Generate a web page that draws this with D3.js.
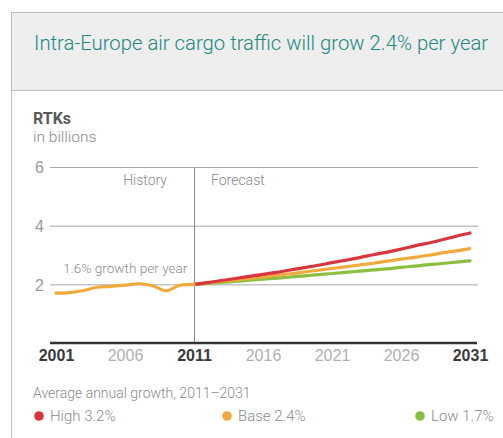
<!DOCTYPE html>
<html>
<head>
<meta charset="utf-8">
<script src="https://cdn.jsdelivr.net/npm/d3@7"></script>
<style>
  html, body { margin: 0; padding: 0; background: #fff; }
  svg { display: block; font-family: Roboto, "Liberation Sans", sans-serif; }
</style>
</head>
<body>
<svg id="chart" width="503" height="438"></svg>
<script>
// Revenue tonne-kilometres, intra-Europe, billions
const historyYears = d3.range(2001, 2012);
const historyValues = [1.70, 1.72, 1.79, 1.90, 1.93, 1.97, 2.02, 1.95, 1.78, 1.97, 2.00];

const forecastYears = d3.range(2011, 2032);
const highValues = [2.00, 2.06, 2.13, 2.20, 2.27, 2.34, 2.41, 2.49, 2.57, 2.65, 2.74,
                    2.82, 2.91, 3.01, 3.10, 3.20, 3.31, 3.41, 3.52, 3.64, 3.75];
const baseValues = [2.00, 2.05, 2.10, 2.15, 2.20, 2.25, 2.31, 2.36, 2.42, 2.48, 2.54,
                    2.60, 2.66, 2.72, 2.79, 2.86, 2.92, 2.99, 3.07, 3.14, 3.22];
const lowValues  = [2.00, 2.03, 2.07, 2.10, 2.14, 2.18, 2.21, 2.25, 2.29, 2.33, 2.37,
                    2.41, 2.45, 2.49, 2.53, 2.58, 2.62, 2.67, 2.71, 2.76, 2.80];

const xTicks = [2001, 2006, 2011, 2016, 2021, 2026, 2031];
const boldTicks = [2001, 2011, 2031];
const yTicks = [2, 4, 6];

const scenarios = [
  { name: "Low 1.7%",  values: lowValues,  color: "#8cbf3f" },
  { name: "Base 2.4%", values: baseValues, color: "#f2a93b" },
  { name: "High 3.2%", values: highValues, color: "#d8363f" }
];
const legendOrder = ["High 3.2%", "Base 2.4%", "Low 1.7%"];

const svg = d3.select("#chart");

// Header panel
svg.append("rect")
  .attr("x", 11.5).attr("y", 12.5).attr("width", 500).attr("height", 78)
  .attr("fill", "#eeeeee").attr("stroke", "#bdbdbd").attr("stroke-width", 1);
svg.append("line")
  .attr("x1", 11.5).attr("x2", 11.5).attr("y1", 90).attr("y2", 438)
  .attr("stroke", "#bdbdbd").attr("stroke-width", 1);
svg.append("text")
  .attr("x", 34).attr("y", 50)
  .attr("fill", "#23877e").attr("font-size", 20.3).attr("font-weight", 300)
  .text("Intra-Europe air cargo traffic will grow 2.4% per year");

// Unit labels
svg.append("text").attr("x", 33).attr("y", 124)
  .attr("fill", "#5a5a5a").attr("font-size", 16).attr("font-weight", 700)
  .text("RTKs");
svg.append("text").attr("x", 33).attr("y", 142)
  .attr("fill", "#8a8a8a").attr("font-size", 15.5).attr("font-weight", 300)
  .text("in billions");

const x = d3.scaleLinear().domain([2001, 2031]).range([56, 470]);
const y = d3.scaleLinear().domain([0, 6]).range([343, 167]);

// Horizontal gridlines with value labels
const yAxis = d3.axisLeft(y).tickValues(yTicks).tickSize(0).tickPadding(0)
  .tickFormat(d3.format("d"));
const gy = svg.append("g").attr("transform", "translate(44,0)").call(yAxis);
gy.select(".domain").remove();
gy.selectAll("text").attr("fill", "#9a9a9a").attr("font-size", 16)
  .attr("font-weight", 300).attr("font-family", null).attr("dy", "0.36em");
svg.append("g").selectAll("line").data(yTicks).join("line")
  .attr("x1", 50).attr("x2", 478)
  .attr("y1", d => y(d) + 0.5).attr("y2", d => y(d) + 0.5)
  .attr("stroke", "#a8a8a8").attr("stroke-width", 1);

// History / forecast divider
svg.append("line")
  .attr("x1", x(2011) + 0.5).attr("x2", x(2011) + 0.5)
  .attr("y1", y(6)).attr("y2", y(0))
  .attr("stroke", "#8a8a8a").attr("stroke-width", 1);
svg.append("text").attr("x", x(2011) - 27).attr("y", 185)
  .attr("text-anchor", "end").attr("fill", "#8a8a8a").attr("font-size", 14).attr("font-weight", 300)
  .text("History");
svg.append("text").attr("x", x(2011) + 17).attr("y", 185)
  .attr("fill", "#8a8a8a").attr("font-size", 14).attr("font-weight", 300)
  .text("Forecast");
svg.append("text").attr("x", 63).attr("y", 273)
  .attr("fill", "#8a8a8a").attr("font-size", 13.6).attr("font-weight", 300)
  .text("1.6% growth per year");

// Scenario lines
const line = d3.line().x(d => x(d[0])).y(d => y(d[1])).curve(d3.curveMonotoneX);
svg.append("g").selectAll("path").data(scenarios).join("path")
  .attr("d", s => line(forecastYears.map((yr, i) => [yr, s.values[i]])))
  .attr("fill", "none").attr("stroke", s => s.color)
  .attr("stroke-width", 3.2).attr("stroke-linecap", "round");

svg.append("path")
  .attr("d", line(historyYears.map((yr, i) => [yr, historyValues[i]])))
  .attr("fill", "none").attr("stroke", "#f0aa3c")
  .attr("stroke-width", 3.2).attr("stroke-linecap", "round").attr("stroke-linejoin", "round");

// Baseline axis
const xAxis = d3.axisBottom(x).tickValues(xTicks).tickSize(0).tickPadding(0)
  .tickFormat(d3.format("d"));
const gx = svg.append("g").attr("transform", `translate(0,${y(0)})`).call(xAxis);
gx.select(".domain").remove();
gx.selectAll("text")
  .attr("font-family", null).attr("font-size", 16).attr("dy", "1.15em")
  .attr("font-weight", d => boldTicks.includes(d) ? 700 : 300)
  .attr("fill", d => boldTicks.includes(d) ? "#3a3a3a" : "#b0b0b0");
svg.append("line")
  .attr("x1", 50).attr("x2", 477).attr("y1", y(0)).attr("y2", y(0))
  .attr("stroke", "#333").attr("stroke-width", 2.5);

// Legend
svg.append("text").attr("x", 33).attr("y", 398)
  .attr("fill", "#8a8a8a").attr("font-size", 14).attr("font-weight", 300)
  .text("Average annual growth, 2011\u20132031");
const legendX = { "High 3.2%": 39, "Base 2.4%": 227, "Low 1.7%": 420 };
const lg = svg.append("g").selectAll("g")
  .data(legendOrder.map(n => scenarios.find(s => s.name === n))).join("g")
  .attr("transform", s => `translate(${legendX[s.name]},416)`);
lg.append("circle").attr("r", 4.8).attr("fill", s => s.color);
lg.append("text").attr("x", 11).attr("y", 5)
  .attr("fill", "#8a8a8a").attr("font-size", 15).attr("font-weight", 300)
  .text(s => s.name);
</script>
</body>
</html>
